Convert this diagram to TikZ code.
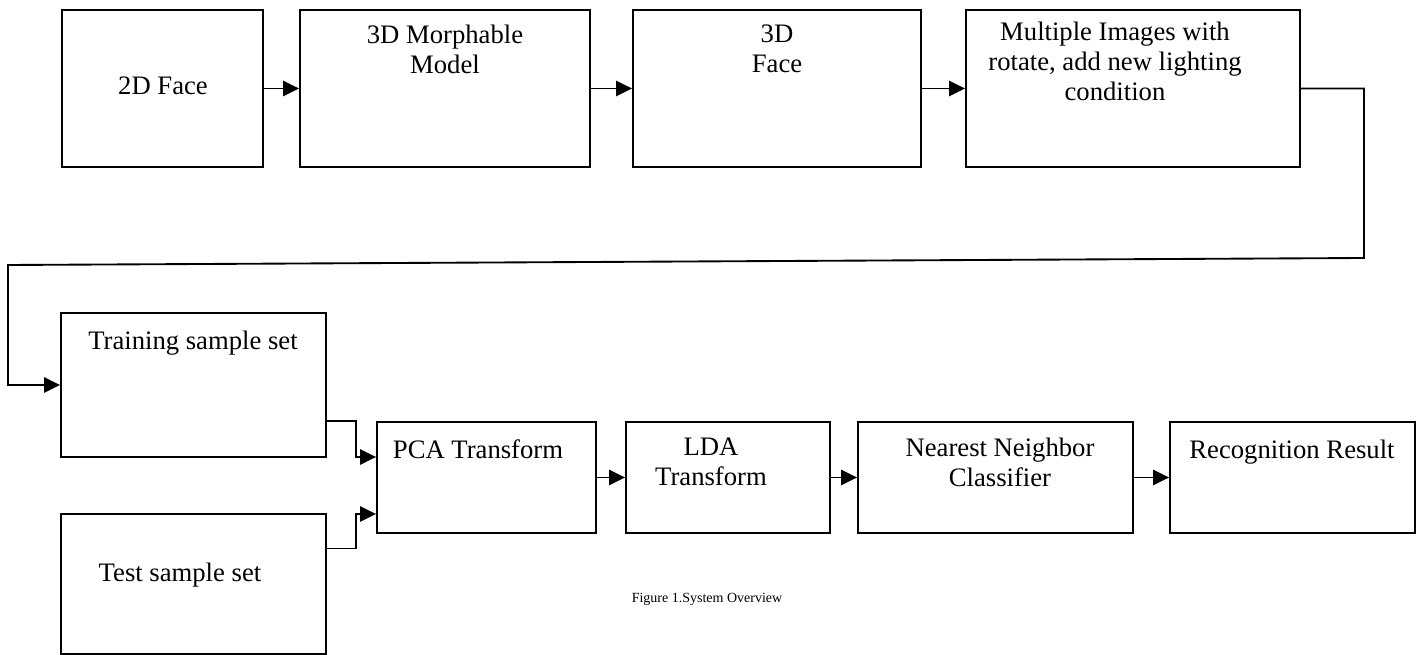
\documentclass[tikz,border=0pt]{standalone}
\usepackage{fontspec}
\setmainfont{Liberation Serif}
\usetikzlibrary{fit,calc,arrows.meta}
\begin{document}
\begin{tikzpicture}[x=0.75pt,y=-0.75pt,
  box/.style={draw,line width=1.4pt,inner sep=0pt},
  txt/.style={font=\fontsize{20}{22.5}\selectfont,align=center,anchor=north,inner sep=0pt,execute at begin node=\strut},
  arr/.style={line width=1.4pt,-{Triangle[length=12pt,width=11.5pt]}},
  captxt/.style={font=\fontsize{10.5}{12}\selectfont,anchor=base,inner sep=0pt}]
\useasboundingbox (0,0) rectangle (1424,655);
% boxes
\node[box,fit={(62,10) (263,167)}] (b1) {};
\node[box,fit={(300,10) (590,167)}] (b2) {};
\node[box,fit={(633,10) (921,167)}] (b3) {};
\node[box,fit={(966,10) (1300,167)}] (b4) {};
\node[box,fit={(61,313) (326,457)}] (tr) {};
\node[box,fit={(61,514) (326,654)}] (te) {};
\node[box,fit={(377,422) (596,533)}] (pca) {};
\node[box,fit={(626,422) (830,533)}] (lda) {};
\node[box,fit={(858,422) (1133,533)}] (nn) {};
\node[box,fit={(1170,422) (1415,533)}] (rr) {};
% texts
\node[txt] (t1) at (163,73.5) {2D Face};
\node[txt] (t2) at (445,24.5) {3D Morphable\\Model};
\node[txt] (t3) at (777,24.5) {3D\\Face};
\node[txt] (t4) at (1115,21.5) {Multiple Images with\\rotate, add new lighting\\condition};
\node[txt] (t5) at (193,328.5) {Training sample set};
\node[txt] (t6) at (180,560.5) {Test sample set};
\node[txt] (t7) at (478,437.5) {PCA Transform};
\node[txt] (t8) at (711,437.5) {LDA\\Transform};
\node[txt] (t9) at (1000,437.5) {Nearest Neighbor\\Classifier};
\node[txt] (t10) at (1292,437.5) {Recognition Result};
\node[captxt] (capt) at (707,602) {Figure 1.System Overview};
% connectors
\draw[arr] (b1.east) -- (b2.west);
\draw[arr] (b2.east) -- (b3.west);
\draw[arr] (b3.east) -- (b4.west);
\coordinate (c1) at (1364,258);
\coordinate (c2) at (8,265);
\draw[arr] (b4.east) -| (c1) -- (c2) |- (tr.west);
\coordinate (m1) at (356,457);
\coordinate (m2) at (356,514);
\draw[arr] (tr.east |- pca.north) -| (m1) -- (pca.west |- m1);
\draw[arr] ($(te.north east)!0.25!(te.south east)$) -| (m2) -- (pca.west |- m2);
\draw[arr] (pca.east) -- (lda.west);
\draw[arr] (lda.east) -- (nn.west);
\draw[arr] (nn.east) -- (rr.west);
\end{tikzpicture}
\end{document}
